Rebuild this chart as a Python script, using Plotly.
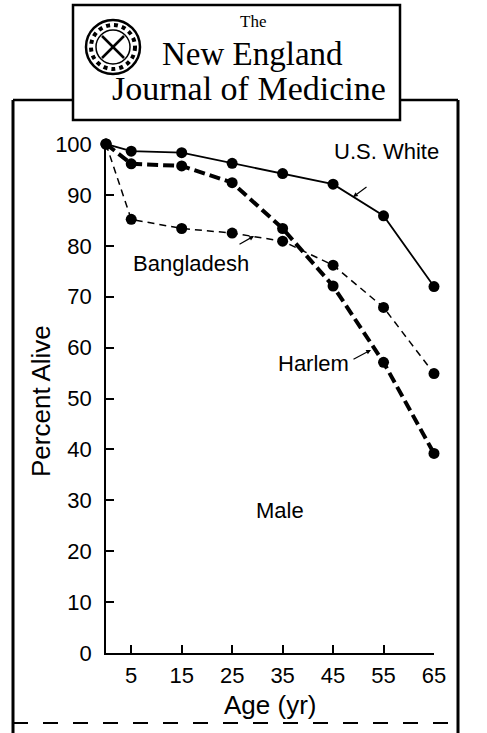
import plotly.graph_objects as go

ages = [0, 5, 15, 25, 35, 45, 55, 65]
us_white = [100, 98.6, 98.3, 96.2, 94.2, 92.1, 85.9, 72.0]
harlem = [100, 96.1, 95.7, 92.4, 83.4, 72.1, 57.1, 39.2]
bangladesh = [100, 85.2, 83.4, 82.5, 80.9, 76.2, 67.9, 54.9]
x_ticks = [5, 15, 25, 35, 45, 55, 65]
y_ticks = [0, 10, 20, 30, 40, 50, 60, 70, 80, 90, 100]

W, H = 487, 733
L, R, T, B = 106, 434, 144, 653


def px(x):
    return (x - L) / (R - L)


def py(y):
    return (B - y) / (B - T)


fig = go.Figure()
mk = dict(size=11, color="black")
fig.add_trace(go.Scatter(x=ages, y=us_white, mode="lines+markers",
                         line=dict(color="black", width=1.8), marker=mk,
                         cliponaxis=False, showlegend=False))
fig.add_trace(go.Scatter(x=ages, y=harlem, mode="lines+markers",
                         line=dict(color="black", width=4, dash="11px,5px"), marker=mk,
                         cliponaxis=False, showlegend=False))
fig.add_trace(go.Scatter(x=ages, y=bangladesh, mode="lines+markers",
                         line=dict(color="black", width=1.5, dash="7px,5px"), marker=mk,
                         cliponaxis=False, showlegend=False))

sans = "Liberation Sans, Arial, sans-serif"
serif = "Liberation Serif, Times New Roman, serif"

fig.update_layout(
    width=W, height=H,
    margin=dict(l=L, r=W - R, t=T, b=H - B, autoexpand=False),
    paper_bgcolor="white", plot_bgcolor="white",
    font=dict(family=sans, color="black"),
    xaxis=dict(range=[0, 65], tickvals=x_ticks, ticks="inside", ticklen=8,
               tickwidth=1.5, tickcolor="black", showline=True, linecolor="black",
               linewidth=1.5, showgrid=False, zeroline=False,
               tickfont=dict(size=22, family=sans), ticklabelstandoff=2),
    yaxis=dict(range=[0, 100], tickvals=y_ticks, ticks="inside", ticklen=8,
               tickwidth=1.5, tickcolor="black", showline=True, linecolor="black",
               linewidth=1.5, showgrid=False, zeroline=False,
               tickfont=dict(size=22, family=sans), ticklabelstandoff=8),
)

ann = []


def text(t, xx, yy, size, family=sans, angle=0):
    ann.append(dict(x=px(xx), y=py(yy), xref="paper", yref="paper", text=t,
                    xanchor="center", yanchor="middle", textangle=angle,
                    showarrow=False, font=dict(size=size, family=family)))


# axis titles
text("Age (yr)", 270, 705, 26)
text("Percent Alive", 41, 401, 26, angle=-90)
# series labels
text("U.S. White", 386, 151, 22)
text("Bangladesh", 191, 263, 22)
text("Harlem", 313, 363, 22)
text("Male", 280, 510, 22)
# pointer arrows (head at curve, tail toward label)
for hx, hy, tx, ty in [(353, 197, 368, 186), (254, 236, 238, 245), (371, 350, 352, 360)]:
    ann.append(dict(x=px(hx), y=py(hy), xref="paper", yref="paper", text="",
                    ax=tx - hx, ay=ty - hy, axref="pixel", ayref="pixel",
                    showarrow=True, arrowhead=2, arrowsize=0.8, arrowwidth=1.2,
                    arrowcolor="black"))
# header text
text("The", 253, 21, 17, serif)
text("New England", 252, 54, 33, serif)
text("Journal of Medicine", 249, 88, 34, serif)
fig.update_layout(annotations=ann)

shapes = []


def seg(x0, y0, x1, y1, w=2.5, dash="solid"):
    shapes.append(dict(type="line", xref="paper", yref="paper",
                       x0=px(x0), y0=py(y0), x1=px(x1), y1=py(y1),
                       line=dict(color="black", width=w, dash=dash)))


# outer frame
seg(13, 100, 13, 733, 3)
seg(458, 100, 458, 733, 3)
seg(13, 100, 73, 100, 2.5)
seg(400, 100, 458, 100, 2.5)
seg(13, 723, 458, 723, 2, "longdash")
# header box
shapes.append(dict(type="rect", xref="paper", yref="paper",
                   x0=px(73), y0=py(5), x1=px(400), y1=py(120),
                   line=dict(color="black", width=2.5), fillcolor="white"))
# logo seal
cx, cy = 113, 47
for r, w in [(27, 2.5), (17, 1.5)]:
    shapes.append(dict(type="circle", xref="paper", yref="paper",
                       x0=px(cx - r), x1=px(cx + r), y0=py(cy - r), y1=py(cy + r),
                       line=dict(color="black", width=w)))
shapes.append(dict(type="circle", xref="paper", yref="paper",
                   x0=px(cx - 22), x1=px(cx + 22), y0=py(cy - 22), y1=py(cy + 22),
                   line=dict(color="black", width=4, dash="dot")))
seg(cx - 11, cy - 11, cx + 11, cy + 11, 2.5)
seg(cx - 11, cy + 11, cx + 11, cy - 11, 2.5)
fig.update_layout(shapes=shapes)

fig.write_html("out.html", config={"displayModeBar": False},
               post_script="document.body.style.margin='0';")
